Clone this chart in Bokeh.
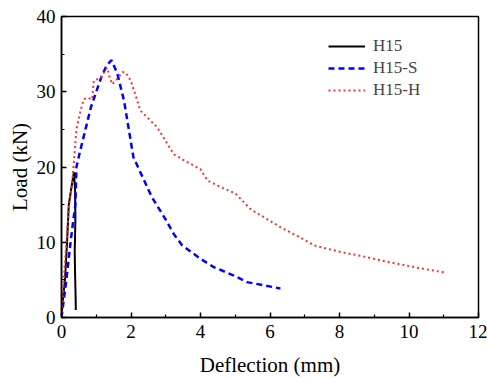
from bokeh.plotting import figure
from bokeh.models import Legend, LegendItem, FixedTicker
from bokeh.embed import file_html
from bokeh.resources import INLINE

# H15 (black solid)
h15_x = [0.0, 0.03, 0.1, 0.16, 0.21, 0.26, 0.31, 0.36, 0.39, 0.40, 0.39, 0.38, 0.39, 0.40, 0.41, 0.41]
h15_y = [0.0, 2.0, 5.0, 10.0, 15.0, 16.5, 18.0, 19.3, 17.0, 13.3, 10.5, 8.9, 6.0, 4.0, 1.9, 1.0]

# H15-S (blue dashed)
h15s_x = [0.0, 0.07, 0.14, 0.26, 0.37, 0.40, 0.43, 0.53, 0.69, 0.85, 1.0, 1.15, 1.3, 1.44, 1.6, 1.8, 2.07, 2.47, 2.6, 3.0, 3.23, 3.47, 4.0, 4.38, 5.0, 5.34, 5.8, 6.25, 6.3]
h15s_y = [0.0, 2.5, 5.0, 10.0, 14.0, 15.0, 20.0, 22.0, 25.0, 28.0, 30.0, 32.0, 33.5, 34.2, 32.5, 28.8, 21.3, 17.3, 16.0, 13.0, 11.1, 9.6, 7.8, 6.7, 5.5, 4.7, 4.3, 3.9, 3.9]

# H15-H (red dotted)
h15h_x = [0.0, 0.05, 0.14, 0.22, 0.3, 0.38, 0.43, 0.55, 0.64, 0.75, 0.88, 0.93, 1.12, 1.31, 1.38, 1.46, 1.6, 1.75, 1.84, 1.99, 2.1, 2.27, 2.75, 3.23, 3.6, 4.0, 4.2, 4.6, 5.0, 5.44, 6.3, 6.8, 7.26, 8.03, 8.6, 9.18, 10.14, 11.0]
h15h_y = [0.0, 4.0, 10.0, 15.0, 17.5, 22.0, 25.0, 27.5, 29.0, 29.2, 29.0, 31.5, 31.8, 33.2, 32.0, 31.0, 31.7, 32.6, 32.6, 31.5, 30.0, 27.5, 25.3, 21.7, 20.7, 19.7, 18.2, 17.3, 16.5, 14.4, 12.0, 10.8, 9.6, 8.7, 8.2, 7.6, 6.7, 6.0]

x_ticks = [0, 2, 4, 6, 8, 10, 12]
y_ticks = [0, 10, 20, 30, 40]

FONT = "Liberation Serif"

p = figure(width=487, height=379, x_range=(0, 12), y_range=(0, 40),
           output_backend="svg", toolbar_location=None,
           min_border_left=61, min_border_right=9, min_border_top=16, min_border_bottom=62)
p.grid.visible = False
p.outline_line_color = "black"
p.outline_line_width = 1.5
p.background_fill_color = "white"
p.border_fill_color = "white"

l1 = p.line(h15_x, h15_y, line_color="black", line_width=2)
l2 = p.line(h15s_x, h15s_y, line_color="#0000ff", line_width=2.5, line_dash="6 4")
l3 = p.line(h15h_x, h15h_y, line_color="#ff3030", line_width=2, line_dash="2 3")

for ax, ticks in ((p.xaxis[0], x_ticks), (p.yaxis[0], y_ticks)):
    ax.ticker = FixedTicker(ticks=ticks, minor_ticks=[t + (ticks[1] - ticks[0]) / 2 for t in ticks[:-1]])
    ax.major_tick_in = 5
    ax.major_tick_out = 0
    ax.minor_tick_in = 3
    ax.minor_tick_out = 0
    ax.axis_line_width = 1.5
    ax.major_tick_line_width = 1.5
    ax.minor_tick_line_width = 1.2
    ax.major_label_text_font = FONT
    ax.major_label_text_font_size = "19px"
    ax.major_label_text_color = "black"
    ax.axis_label_text_font = FONT
    ax.axis_label_text_font_size = "21px"
    ax.axis_label_text_font_style = "normal"
    ax.axis_label_text_color = "black"

p.xaxis.axis_label = "Deflection (mm)"
p.yaxis.axis_label = "Load (kN)"
p.xaxis.major_label_standoff = 7
p.yaxis.major_label_standoff = 6
p.xaxis.axis_label_standoff = 12
p.yaxis.axis_label_standoff = 2

legend = Legend(items=[LegendItem(label="H15", renderers=[l1]),
                       LegendItem(label="H15-S", renderers=[l2]),
                       LegendItem(label="H15-H", renderers=[l3])],
                location=(267, 217), padding=0, margin=0, spacing=2,
                glyph_width=37, glyph_height=20, label_standoff=8,
                label_text_font=FONT, label_text_font_size="17px",
                border_line_color=None, background_fill_alpha=0)
p.add_layout(legend)

open("out.html", "w").write(file_html(p, INLINE))
